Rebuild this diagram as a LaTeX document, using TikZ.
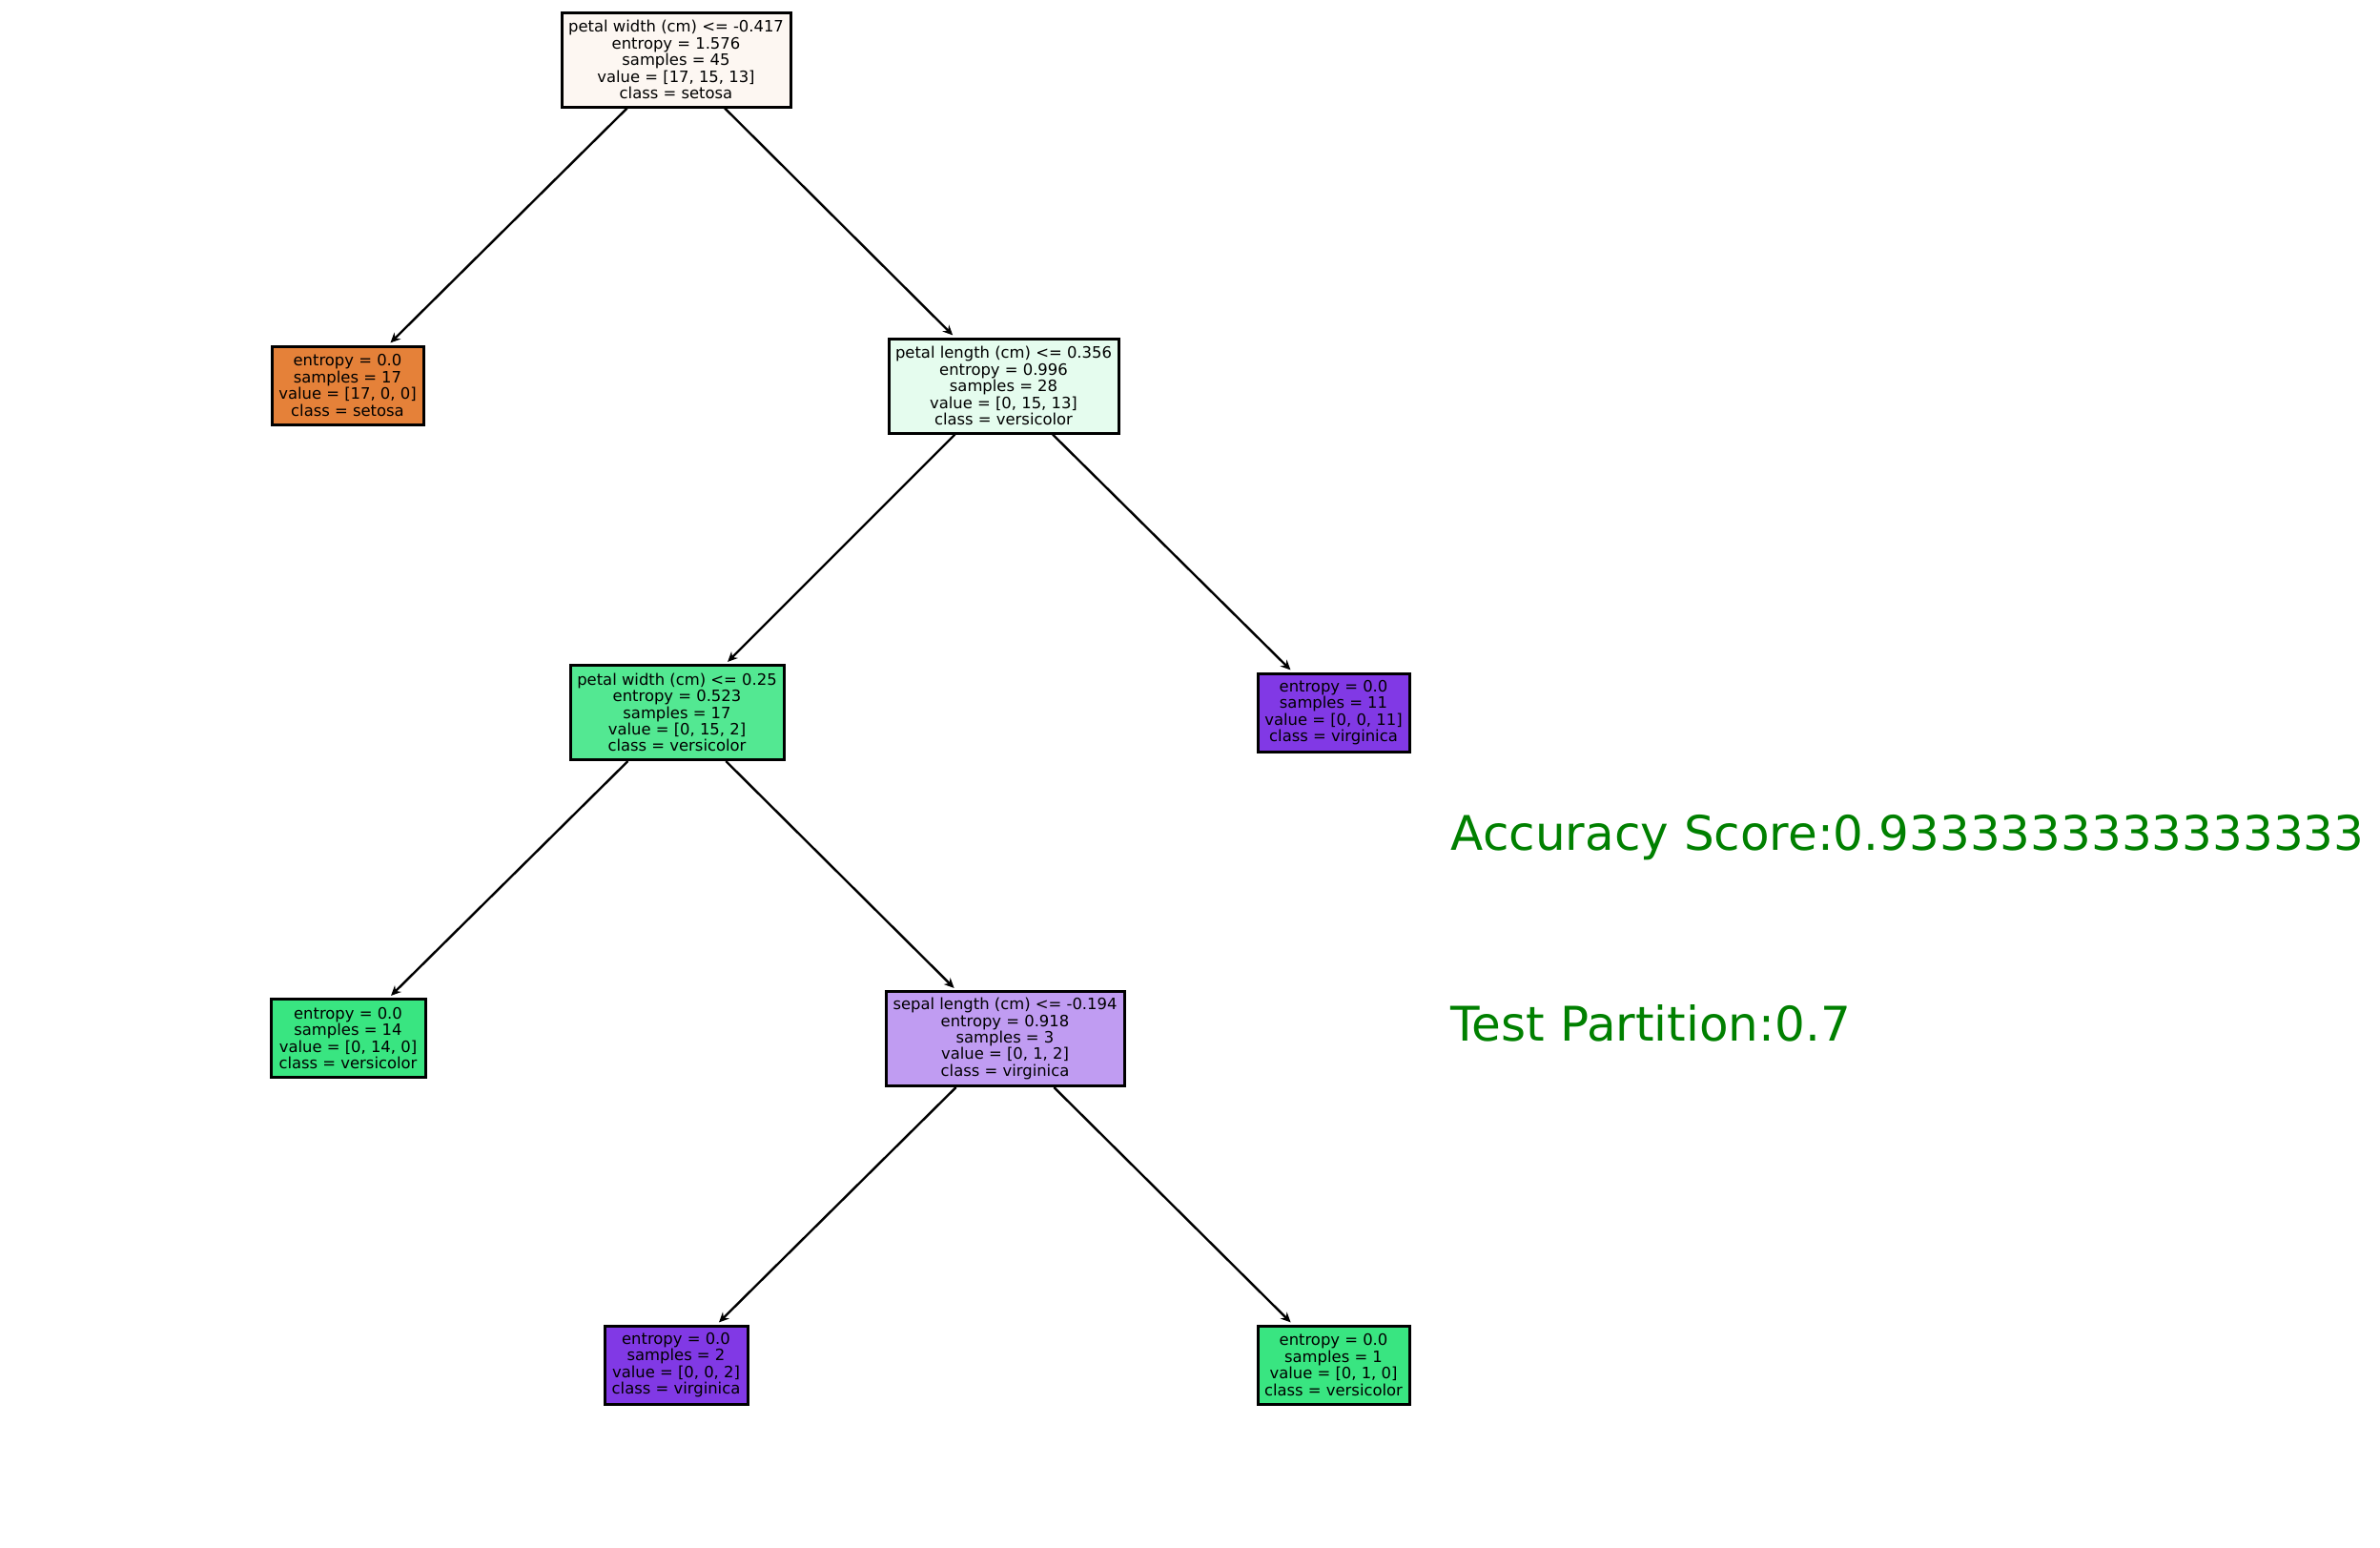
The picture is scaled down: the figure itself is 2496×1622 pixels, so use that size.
\documentclass[tikz,border=0pt]{standalone}
\usepackage{fontspec}
\setmainfont{DejaVu Sans}
\usetikzlibrary{arrows.meta}
\definecolor{cRoot}{RGB}{253,247,242}
\definecolor{cSet}{RGB}{229,129,57}
\definecolor{cVer}{RGB}{57,229,129}
\definecolor{cVir}{RGB}{129,57,229}
\definecolor{cPL}{RGB}{229,252,238}
\definecolor{cPW}{RGB}{83,232,146}
\definecolor{cSL}{RGB}{192,156,242}
\definecolor{mplgreen}{RGB}{0,128,0}
\tikzset{
  treenode/.style={draw=black, line width=0.75pt, inner sep=0pt, align=center,
    font=\fontsize{4.1pt}{4.35pt}\selectfont, text=black},
  splitnode/.style={treenode, minimum height=24.75pt},
  leafnode/.style={treenode, minimum height=20.5pt},
  edge/.style={line width=0.6pt, -{Stealth[length=2.6pt,width=2.4pt]}, shorten >=0.75pt},
  score/.style={inner sep=0pt, anchor=base west, text=mplgreen,
    font=\fontsize{12.5pt}{15pt}\selectfont}
}
\begin{document}
\begin{tikzpicture}[x=0.25pt, y=-0.25pt]
\useasboundingbox (0,0) rectangle (2496,1622);
\node[splitnode, fill=cRoot, minimum width=60pt] (root) at (709,62.5)
  {petal width (cm) <= -0.417\\entropy = 1.576\\samples = 45\\value = [17, 15, 13]\\class = setosa};
\node[leafnode, fill=cSet, minimum width=39.75pt] (l1) at (364.5,404)
  {entropy = 0.0\\samples = 17\\value = [17, 0, 0]\\class = setosa};
\node[splitnode, fill=cPL, minimum width=60.25pt] (pl) at (1052.5,404.5)
  {petal length (cm) <= 0.356\\entropy = 0.996\\samples = 28\\value = [0, 15, 13]\\class = versicolor};
\node[splitnode, fill=cPW, minimum width=56pt] (pw) at (710,747)
  {petal width (cm) <= 0.25\\entropy = 0.523\\samples = 17\\value = [0, 15, 2]\\class = versicolor};
\node[leafnode, fill=cVir, minimum width=39.75pt] (l2) at (1398.5,747)
  {entropy = 0.0\\samples = 11\\value = [0, 0, 11]\\class = virginica};
\node[leafnode, fill=cVer, minimum width=40.5pt] (l3) at (365,1088.5)
  {entropy = 0.0\\samples = 14\\value = [0, 14, 0]\\class = versicolor};
\node[splitnode, fill=cSL, minimum width=62.5pt] (sl) at (1054,1089)
  {sepal length (cm) <= -0.194\\entropy = 0.918\\samples = 3\\value = [0, 1, 2]\\class = virginica};
\node[leafnode, fill=cVir, minimum width=37.5pt] (l4) at (709,1431)
  {entropy = 0.0\\samples = 2\\value = [0, 0, 2]\\class = virginica};
\node[leafnode, fill=cVer, minimum width=39.75pt] (l5) at (1398.5,1431)
  {entropy = 0.0\\samples = 1\\value = [0, 1, 0]\\class = versicolor};
\draw[edge] (root) -- (l1);
\draw[edge] (root) -- (pl);
\draw[edge] (pl) -- (pw);
\draw[edge] (pl) -- (l2);
\draw[edge] (pw) -- (l3);
\draw[edge] (pw) -- (sl);
\draw[edge] (sl) -- (l4);
\draw[edge] (sl) -- (l5);
\node[score] (acc) at (1521,891) {Accuracy Score:0.9333333333333333};
\node[score] (tp) at (1521,1091) {Test Partition:0.7};
\end{tikzpicture}
\end{document}
